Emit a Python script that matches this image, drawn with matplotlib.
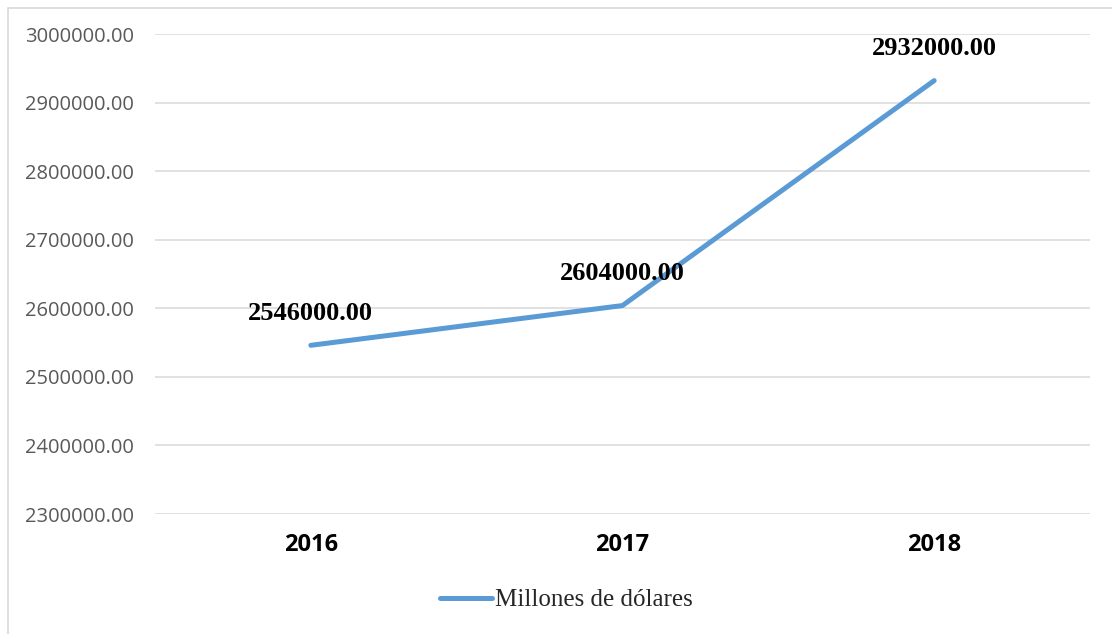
import matplotlib
matplotlib.use("Agg")
import matplotlib.pyplot as plt
from matplotlib.patches import Rectangle

years = ["2016", "2017", "2018"]
values = [2546000, 2604000, 2932000]
yticks = [2300000, 2400000, 2500000, 2600000, 2700000, 2800000, 2900000, 3000000]
series_name = "Millones de dólares"

fig = plt.figure(figsize=(11.12, 6.34), dpi=100)
fig.patch.set_facecolor("white")
fig.add_artist(Rectangle((8/1112, -0.01), 1.02, 1 - 8/634 + 0.01, transform=fig.transFigure,
                         fill=False, edgecolor="#d9d9d9", linewidth=1.2))

ax = fig.add_axes([155/1112, 1 - 514/634, (1090-155)/1112, (514-34)/634])
x = list(range(len(years)))
ax.plot(x, values, color="#5b9bd5", linewidth=3.6, solid_capstyle="round", label=series_name, zorder=3)
ax.set_xlim(-0.5, 2.5)
ax.set_ylim(2300000, 3000000)
ax.set_yticks(yticks)
ax.set_yticklabels([f"{v:.2f}" for v in yticks], fontfamily="Open Sans", fontsize=14.5, color="#595959")
ax.set_xticks(x)
ax.set_xticklabels(years, fontfamily="Open Sans", fontsize=17, fontweight="bold", color="#000000")
ax.tick_params(axis="y", length=0, pad=15)
ax.tick_params(axis="x", length=0, pad=14)
ax.grid(axis="y", color="#d9d9d9", linewidth=1.1)
ax.set_axisbelow(True)
for s in ax.spines.values():
    s.set_visible(False)

for xi, v in zip(x, values):
    ax.annotate(f"{v:.2f}", (xi, v), xytext=(0, 23), textcoords="offset points",
                ha="center", va="center", fontfamily="Liberation Serif", fontsize=19,
                fontweight="bold", color="#000000")

leg = fig.legend(*ax.get_legend_handles_labels(), loc="center", bbox_to_anchor=(566/1112, 1 - 600/634),
                 frameon=False, prop={"family": "Liberation Serif", "size": 18},
                 handlelength=2.1, handletextpad=0.1)
for t in leg.get_texts():
    t.set_color("#262626")

fig.savefig("out.png", dpi=100)
